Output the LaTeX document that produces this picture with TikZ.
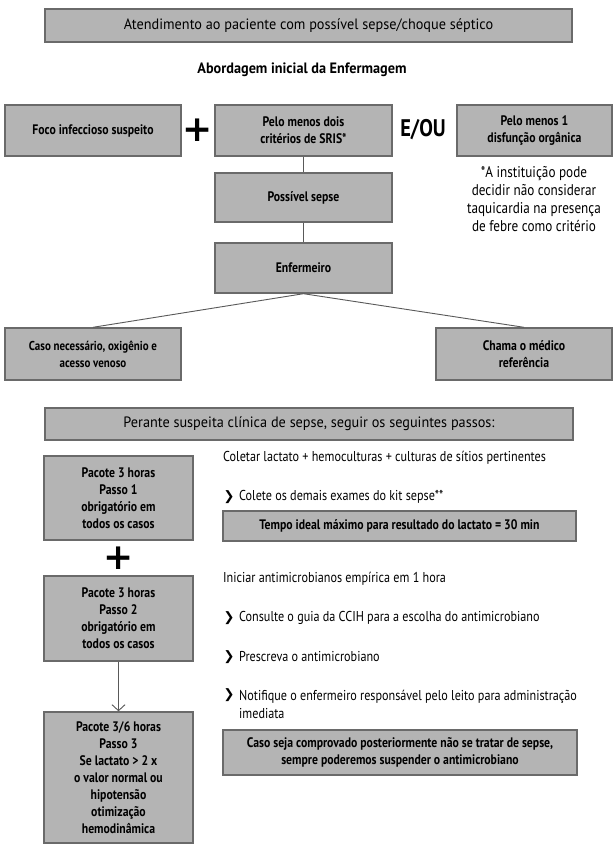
\documentclass[tikz,border=0pt]{standalone}
\usepackage{fontspec}
\setmainfont{PT Sans}[FakeStretch=0.85]
\newfontfamily\headfont{PT Sans}[FakeStretch=0.95]
\newfontfamily\symfont{DejaVu Sans}
\usetikzlibrary{arrows.meta}
\definecolor{boxfill}{HTML}{B4B4B4}
\definecolor{boxline}{HTML}{6A6A6A}

\begin{document}
\begin{tikzpicture}[x=1pt, y=-1pt,
  cbox/.style={draw=boxline, fill=boxfill, line width=1.4pt, align=center, inner sep=1pt,
    font=\fontsize{13.8}{17}\selectfont\bfseries},
  headbox/.style={cbox, font=\headfont\fontsize{15}{17}\selectfont},
  plain/.style={align=center, inner sep=1pt, font=\fontsize{15.5}{18}\selectfont},
  item/.style={anchor=west, align=left, inner sep=1pt, font=\fontsize{14.3}{18}\selectfont},
  chev/.style={inner sep=0pt, font=\symfont\bfseries\fontsize{13}{13}\selectfont},
  bigplus/.style={inner sep=0pt, font=\symfont\bfseries\fontsize{36}{36}\selectfont},
  link/.style={draw=black!65, line width=0.9pt}]
  \useasboundingbox[fill=white] (0,0) rectangle (615,851);

  \node[headbox, minimum width=527, minimum height=33] (atend) at (308.5,25.5) {Atendimento ao paciente com possível sepse/choque séptico};
  \node[plain, font=\headfont\fontsize{15}{16}\selectfont\bfseries] (abord) at (302,70) {Abordagem inicial da Enfermagem};

  \node[cbox, minimum width=176, minimum height=51] (foco) at (93,130.5) {Foco infeccioso suspeito};
  \node[bigplus] (plusA) at (198,130) {+};
  \node[cbox, minimum width=177, minimum height=51] (sris) at (303.5,130.5) {Pelo menos dois\\critérios de SRIS*};
  \node[plain, font=\fontsize{24}{24}\selectfont\bfseries] (eou) at (423,130) {E/OU};
  \node[cbox, minimum width=155, minimum height=51] (disf) at (534.5,130.5) {Pelo menos 1\\disfunção orgânica};
  \node[plain] (nota) at (534,199) {*A instituição pode\\decidir não considerar\\taquicardia na presença\\de febre como critério};

  \node[cbox, minimum width=177, minimum height=49] (sepse) at (303.5,197.5) {Possível sepse};
  \node[cbox, minimum width=177, minimum height=50] (enf) at (303.5,268) {Enfermeiro};
  \node[cbox, minimum width=176, minimum height=52, font=\fontsize{12.9}{17}\selectfont\bfseries] (caso) at (93,354) {Caso necessário, oxigênio e\\acesso venoso};
  \node[cbox, minimum width=176, minimum height=52] (chama) at (524,354) {Chama o médico\\referência};

  \draw[link] (sris) -- (sepse);
  \draw[link] (sepse) -- (enf);
  \draw[link] (enf.south) -- (caso.north);
  \draw[link] (enf.south) -- (chama.north);

  \node[headbox, minimum width=528, minimum height=32] (perante) at (309,424) {Perante suspeita clínica de sepse, seguir os seguintes passos:};

  \node[cbox, minimum width=149, minimum height=84] (pac1) at (118.5,498) {Pacote 3 horas\\Passo 1\\obrigatório em\\todos os casos};
  \node[bigplus] (plusB) at (119,558) {+};
  \node[cbox, minimum width=149, minimum height=85] (pac2) at (118.5,618.5) {Pacote 3 horas\\Passo 2\\obrigatório em\\todos os casos};
  \node[cbox, minimum width=149, minimum height=131] (pac3) at (118.5,777.5) {Pacote 3/6 horas\\Passo 3\\Se lactato > 2 x\\o valor normal ou\\hipotensão\\otimização\\hemodinâmica};
  \draw[link, -{Straight Barb[length=6pt, width=13pt]}] (pac2) -- (pac3);

  \node[item] (coletar) at (222,458) {Coletar lactato + hemoculturas + culturas de sítios pertinentes};
  \node[chev] (chevA) at (229,497) {❯};
  \node[item] (colete) at (238,497) {Colete os demais exames do kit sepse**};
  \node[cbox, minimum width=353, minimum height=30] (tempo) at (399.5,526) {Tempo ideal máximo para resultado do lactato = 30 min};

  \node[item] (iniciar) at (222,579) {Iniciar antimicrobianos empírica em 1 hora};
  \node[chev] (chevB) at (229,618) {❯};
  \node[item] (consulte) at (238,618) {Consulte o guia da CCIH para a escolha do antimicrobiano};
  \node[chev] (chevC) at (229,657) {❯};
  \node[item] (prescreva) at (238,657) {Prescreva o antimicrobiano};
  \node[chev] (chevD) at (229,695) {❯};
  \node[item] (notifique) at (238,704) {Notifique o enfermeiro responsável pelo leito para administração\\imediata};
  \node[cbox, minimum width=354, minimum height=45] (suspender) at (400,752.5) {Caso seja comprovado posteriormente não se tratar de sepse,\\sempre poderemos suspender o antimicrobiano};
\end{tikzpicture}
\end{document}
